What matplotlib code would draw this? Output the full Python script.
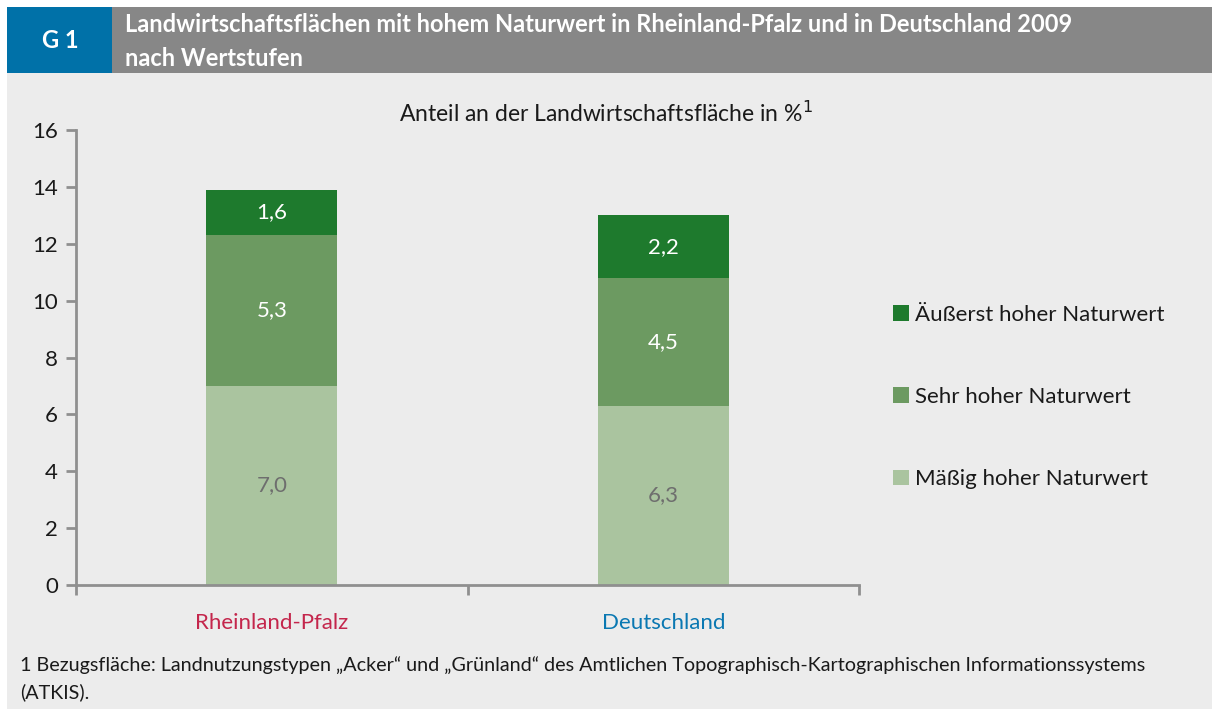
import matplotlib.pyplot as plt
from matplotlib.patches import Rectangle, Patch

plt.rcParams['font.family'] = ['Lato', 'DejaVu Sans']

regions = ['Rheinland-Pfalz', 'Deutschland']
region_colors = ['#c4264c', '#0a78b2']
levels = ['Mäßig hoher Naturwert', 'Sehr hoher Naturwert', 'Äußerst hoher Naturwert']
values = {
    'Mäßig hoher Naturwert': [7.0, 6.3],
    'Sehr hoher Naturwert': [5.3, 4.5],
    'Äußerst hoher Naturwert': [1.6, 2.2],
}
level_colors = ['#aac49f', '#6c9a61', '#1e7a2d']
label_colors = ['#6e6e6e', 'white', 'white']
yticks = [0, 2, 4, 6, 8, 10, 12, 14, 16]

bg = '#ececec'
axis_grey = '#8f8f8f'
txt = '#1a1a1a'

fig = plt.figure(figsize=(12.12, 7.09), dpi=100)
fig.patch.set_facecolor('white')

# page background and header band
fig.patches.append(Rectangle((7 / 1212, 0), 1, 1 - 73 / 709, transform=fig.transFigure,
                             facecolor=bg, edgecolor='none', zorder=-10))
fig.patches.append(Rectangle((7 / 1212, 1 - 73 / 709), 105 / 1212, 66 / 709,
                             transform=fig.transFigure, facecolor='#0071a8',
                             edgecolor='none', zorder=-9))
fig.patches.append(Rectangle((112 / 1212, 1 - 73 / 709), 1, 66 / 709,
                             transform=fig.transFigure, facecolor='#878787',
                             edgecolor='none', zorder=-9))
fig.text(60 / 1212, 1 - 41 / 709, 'G 1', color='white', fontsize=17, fontweight='bold',
         ha='center', va='center')
fig.text(125 / 1212, 1 - 24 / 709,
         'Landwirtschaftsflächen mit hohem Naturwert in Rheinland-Pfalz und in Deutschland 2009',
         color='white', fontsize=17, fontweight='bold', ha='left', va='center')
fig.text(125 / 1212, 1 - 58 / 709, 'nach Wertstufen', color='white', fontsize=17,
         fontweight='bold', ha='left', va='center')

ax = fig.add_axes([76 / 1212, 1 - 585 / 709, (859 - 76) / 1212, (585 - 130) / 709])
ax.set_facecolor('none')

x = list(range(len(regions)))
bottom = [0.0] * len(regions)
for lvl, col, tcol in zip(levels, level_colors, label_colors):
    vals = values[lvl]
    ax.bar(x, vals, width=0.335, bottom=bottom, color=col, zorder=2)
    for xi, b, v in zip(x, bottom, vals):
        ax.text(xi, b + v / 2, f'{v:.1f}'.replace('.', ','), ha='center', va='center',
                color=tcol, fontsize=16)
    bottom = [b + v for b, v in zip(bottom, vals)]

ax.set_xlim(-0.5, 1.5)
ax.set_ylim(0, 16)
ax.set_yticks(yticks)
ax.set_yticklabels([str(t) for t in yticks], fontsize=16)
ax.set_xticks([-0.5, 0.5, 1.5])
ax.set_xticklabels([])
for s in ['top', 'right']:
    ax.spines[s].set_visible(False)
for s in ['left', 'bottom']:
    ax.spines[s].set_color(axis_grey)
    ax.spines[s].set_linewidth(2)
ax.tick_params(axis='both', colors=axis_grey, width=2, length=7)
ax.tick_params(axis='y', labelcolor=txt, pad=6)

for xi, name, c in zip(x, regions, region_colors):
    ax.text(xi, -1.35, name, ha='center', va='center', color=c, fontsize=16)

fig.text(606 / 1212, 1 - 113 / 709, 'Anteil an der Landwirtschaftsfläche in %$^1$',
         fontsize=16.5, color=txt, ha='center', va='center')

handles = [Patch(facecolor=c, edgecolor='none') for c in level_colors][::-1]
fig.legend(handles, levels[::-1], loc='center left', bbox_to_anchor=(873 / 1212, 1 - 397 / 709),
           frameon=False, fontsize=16, labelspacing=2.8, handlelength=0.7, handleheight=0.7,
           handletextpad=0.3, labelcolor=txt)

fig.text(20 / 1212, 1 - 665 / 709,
         '1 Bezugsfläche: Landnutzungstypen „Acker“ und „Grünland“ des Amtlichen '
         'Topographisch-Kartographischen Informationssystems',
         fontsize=14.2, color=txt, ha='left', va='center')
fig.text(20 / 1212, 1 - 692 / 709, '(ATKIS).', fontsize=14.2, color=txt,
         ha='left', va='center')

fig.savefig('out.png', dpi=100, facecolor=fig.get_facecolor())
